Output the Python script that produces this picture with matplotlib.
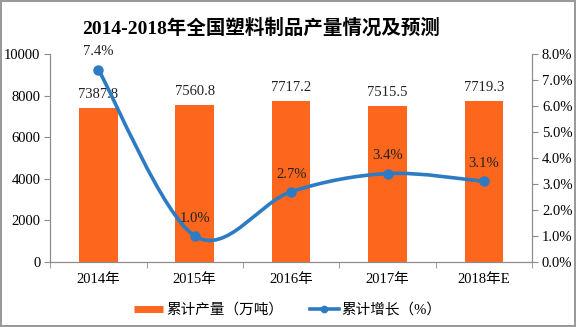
import numpy as np
import matplotlib
matplotlib.use("Agg")
import matplotlib.pyplot as plt
from matplotlib.path import Path
from matplotlib.patches import PathPatch
from matplotlib.lines import Line2D

plt.rcParams["font.family"] = ["Liberation Serif", "Noto Sans CJK SC"]

years = ["2014年", "2015年", "2016年", "2017年", "2018年E"]
output = [7387.8, 7560.8, 7717.2, 7515.5, 7719.3]   # 万吨
growth = [7.4, 1.0, 2.7, 3.4, 3.1]                  # %

BAR_COLOR = "#FD671D"
LINE_COLOR = "#2C7BC3"
AXIS_COLOR = "#8c8c8c"


def smooth_path(xs, ys):
    """Catmull-Rom style bezier through the points (like Excel smoothed lines)."""
    pts = np.column_stack([xs, ys]).astype(float)
    n = len(pts)
    verts = [pts[0]]
    codes = [Path.MOVETO]
    for i in range(n - 1):
        p0 = pts[i - 1] if i > 0 else pts[i]
        p1, p2 = pts[i], pts[i + 1]
        p3 = pts[i + 2] if i + 2 < n else pts[i + 1]
        c1 = p1 + (p2 - p0) / 6
        c2 = p2 - (p3 - p1) / 6
        verts += [c1, c2, p2]
        codes += [Path.CURVE4] * 3
    return Path(verts, codes)


fig = plt.figure(figsize=(5.76, 3.27), dpi=100)
fig.patch.set_edgecolor("#9a9a9a")
fig.patch.set_linewidth(1.5)
ax = fig.add_axes([0.087, 0.199, 0.837, 0.636])
ax2 = ax.twinx()

x = np.arange(len(years))
ax.bar(x, output, width=0.4, color=BAR_COLOR, zorder=2)
for xi, v in zip(x, output):
    ax.annotate(f"{v:.1f}", (xi, v), xytext=(0, 5), textcoords="offset points",
                ha="center", va="bottom", fontsize=10.5, color="#222222")

ax.set_xlim(-0.5, len(years) - 0.5)
ax.set_ylim(0, 10000)
ax.set_yticks(np.arange(0, 10001, 2000))
ax.set_xticks(x)
ax.set_xticklabels(years)
ax.set_xticks(np.arange(-0.5, len(years), 1), minor=True)
ax.tick_params(axis="x", which="major", length=0, pad=8, labelsize=10.5)
ax.tick_params(axis="x", which="minor", length=4, color=AXIS_COLOR)
ax.tick_params(axis="y", length=4, color=AXIS_COLOR, labelsize=10.5, pad=3)

ax2.set_ylim(0, 8)
ax2.set_yticks(np.arange(0, 8.1, 1))
ax2.set_yticklabels([f"{t:.1f}%" for t in np.arange(0, 8.1, 1)])
ax2.tick_params(axis="y", length=4, color=AXIS_COLOR, labelsize=10.5, pad=3)

for a in (ax, ax2):
    a.spines["top"].set_visible(False)
    for s in ("left", "right", "bottom"):
        a.spines[s].set_color(AXIS_COLOR)

ax2.add_patch(PathPatch(smooth_path(x, growth), fill=False, edgecolor=LINE_COLOR,
                        linewidth=2.6, zorder=3))
ax2.plot(x, growth, "o", color=LINE_COLOR, markersize=6.5, zorder=4)
for xi, g in zip(x, growth):
    ax2.annotate(f"{g:.1f}%", (xi, g), xytext=(0, 8), textcoords="offset points",
                 ha="center", va="bottom", fontsize=10.5, color="#222222")

fig.text(0.453, 0.915, "2014-2018年全国塑料制品产量情况及预测", ha="center", va="center",
         fontsize=14, fontweight="bold")

handles = [Line2D([0], [0], color=BAR_COLOR, lw=5, solid_capstyle="butt"),
           Line2D([0], [0], color=LINE_COLOR, lw=2.6, marker="o", markersize=4.5)]
fig.legend(handles, ["累计产量（万吨）", "累计增长（%）"], loc="center",
           bbox_to_anchor=(0.5, 0.052), ncol=2, frameon=False, fontsize=10.5,
           handlelength=2.0, columnspacing=1.8, handletextpad=0.2)

fig.savefig("out.png", dpi=100)
